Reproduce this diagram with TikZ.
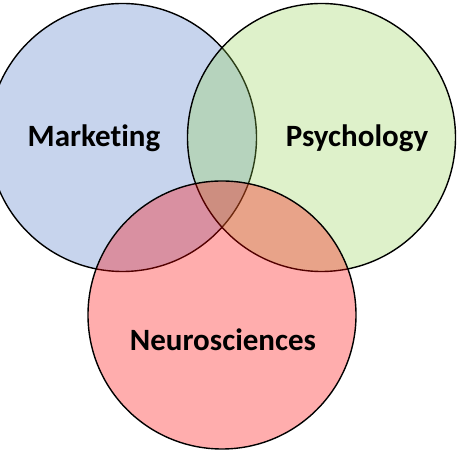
\documentclass[tikz,border=0pt]{standalone}
\usepackage{fontspec}
\setmainfont[RawFeature={-liga;-clig;-calt;-dlig}]{Carlito}
\definecolor{MktClr}{rgb}{0.267,0.447,0.769}
\definecolor{PsyClr}{rgb}{0.573,0.816,0.314}
\definecolor{NeuClr}{rgb}{1,0,0}

\begin{document}
\begin{tikzpicture}[x=1pt,y=1pt,
  venn/.style={circle,draw=black,line width=1.4pt,fill opacity=0.3,inner sep=0pt,minimum size=268pt},
  lbl/.style={anchor=base,font=\fontsize{31}{36}\selectfont\bfseries}]
\useasboundingbox (0,0) rectangle (461,457);
\clip (0,0) rectangle (461,457);

% the three fields
\node[venn,fill=MktClr] (mkt) at (122.5,319.5) {};
\node[venn,fill=PsyClr] (psy) at (321.5,319.5) {};
\node[venn,fill=NeuClr,fill opacity=0.32] (neu) at (222,142) {};

\node[lbl] (mktlbl) at (94,310) {Marketing};
\node[lbl] (psylbl) at (357,310) {Psychology};
\node[lbl] (neulbl) at (223,106) {Neurosciences};

\end{tikzpicture}
\end{document}
